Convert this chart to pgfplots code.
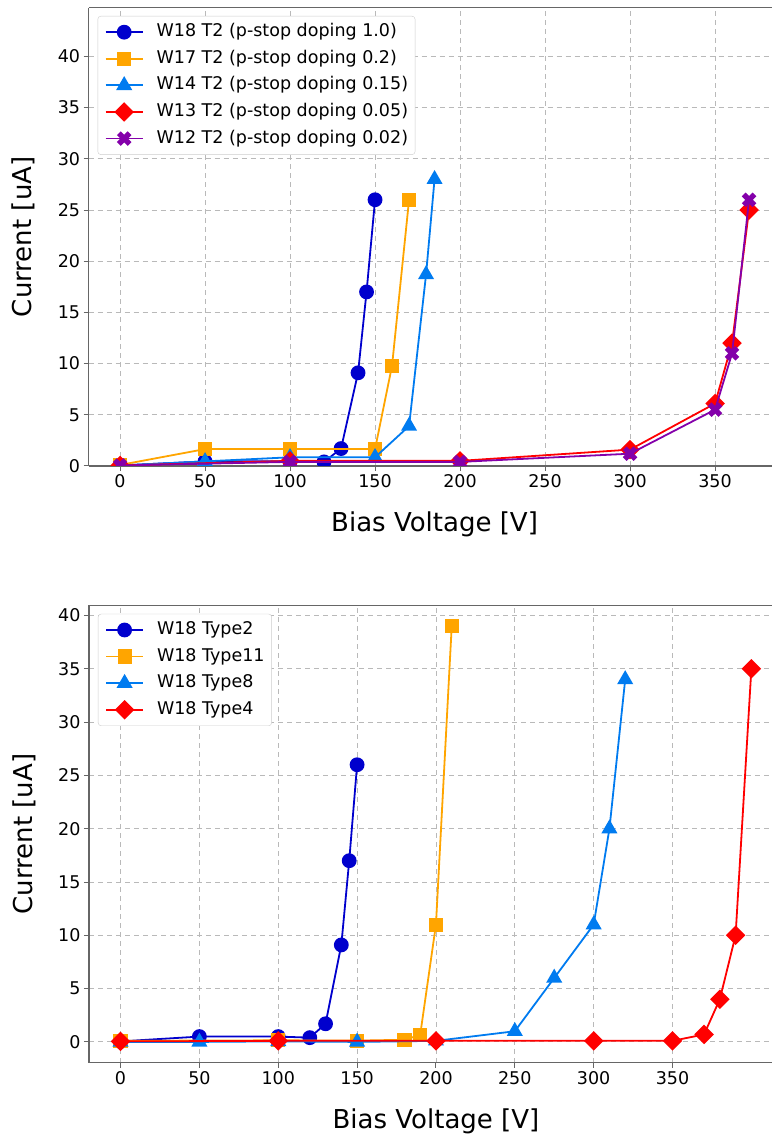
\documentclass[border=0pt]{standalone}
\usepackage{fontspec}
\setmainfont{DejaVu Sans}
\usepackage{pgfplots}
\pgfplotsset{compat=1.18}

\definecolor{cblue}{RGB}{0,0,205}
\definecolor{corange}{RGB}{255,165,0}
\definecolor{clblue}{RGB}{0,123,240}
\definecolor{cred}{RGB}{255,0,0}
\definecolor{cpurple}{RGB}{132,0,170}

\pgfdeclareplotmark{Xfill}{%
  \pgfpathmoveto{\pgfqpoint{0pt}{0.42\pgfplotmarksize}}%
  \pgfpathlineto{\pgfqpoint{0.58\pgfplotmarksize}{\pgfplotmarksize}}%
  \pgfpathlineto{\pgfqpoint{\pgfplotmarksize}{0.58\pgfplotmarksize}}%
  \pgfpathlineto{\pgfqpoint{0.42\pgfplotmarksize}{0pt}}%
  \pgfpathlineto{\pgfqpoint{\pgfplotmarksize}{-0.58\pgfplotmarksize}}%
  \pgfpathlineto{\pgfqpoint{0.58\pgfplotmarksize}{-\pgfplotmarksize}}%
  \pgfpathlineto{\pgfqpoint{0pt}{-0.42\pgfplotmarksize}}%
  \pgfpathlineto{\pgfqpoint{-0.58\pgfplotmarksize}{-\pgfplotmarksize}}%
  \pgfpathlineto{\pgfqpoint{-\pgfplotmarksize}{-0.58\pgfplotmarksize}}%
  \pgfpathlineto{\pgfqpoint{-0.42\pgfplotmarksize}{0pt}}%
  \pgfpathlineto{\pgfqpoint{-\pgfplotmarksize}{0.58\pgfplotmarksize}}%
  \pgfpathlineto{\pgfqpoint{-0.58\pgfplotmarksize}{\pgfplotmarksize}}%
  \pgfpathclose
  \pgfusepathqfillstroke}

\pgfplotsset{
  mystyle/.style={
    scale only axis, anchor=south west,
    axis lines*=left,
    axis line style={black!60, line width=1.1pt},
    tick align=outside, major tick length=5pt, tick pos=left,
    tick style={black!60, line width=1pt},
    grid=major,
    grid style={gray!55, line width=0.9pt, dash pattern=on 5pt off 4pt},
    xtick={0,50,...,350},
    ytick={0,5,...,40},
    /pgf/number format/assume math mode=true,
    ticklabel style={font=\fontsize{17.5}{20}\selectfont},
    label style={font=\fontsize{26}{30}\selectfont},
    xlabel style={at={([yshift=-46pt]axis description cs:0.5,0)}, anchor=north, inner sep=0pt},
    ylabel style={at={([xshift=-53pt]axis description cs:0,0.5)}, anchor=south, inner sep=0pt},
    xlabel={Bias Voltage [V]}, ylabel={Current [uA]},
    legend style={at={(axis description cs:0,1)}, anchor=north west, xshift=9pt, yshift=-8.4pt,
      font=\fontsize{17.5}{20}\selectfont, draw=black!20, rounded corners=3pt, fill=white,
      inner xsep=7pt, inner ysep=7.5pt, row sep=9.6pt, column sep=13pt,
      nodes={inner sep=0pt, text height=13pt, text depth=4pt}},
    legend cell align=left,
    legend image code/.code={\draw[mark repeat=2,mark phase=2] plot coordinates {(0pt,0pt) (18.5pt,0pt) (37pt,0pt)};},
    every axis plot/.append style={line width=1.8pt},
    clip marker paths=true,
    after end axis/.code={\draw[black!60, line width=1.1pt] (rel axis cs:0,1) -- (rel axis cs:1,1);},
  },
  pblue/.style={color=cblue, mark=*, mark size=6.5pt, mark options={solid, fill=cblue}},
  porange/.style={color=corange, mark=square*, mark size=6.2pt, mark options={solid, fill=corange}},
  plblue/.style={color=clblue, mark=triangle*, mark size=7.5pt, mark options={solid, fill=clblue}},
  pred/.style={color=cred, mark=square*, mark size=6pt, mark options={solid, fill=cred, rotate=45}},
  ppurple/.style={color=cpurple, mark=Xfill, mark size=6pt, mark options={solid, fill=cpurple}},
}

\begin{document}
\begin{tikzpicture}
\begin{axis}[mystyle,
  at={(88.6pt,668pt)}, width=691.9pt, height=458.4pt,
  xmin=-18.5, xmax=388.5, ymin=0, ymax=44.77]
\addplot[pblue] coordinates {(0,0.05)(50,0.45)(100,0.45)(120,0.4)(130,1.7)(140,9.1)(145,17)(150,26)};
\addlegendentry{W18 T2 (p-stop doping 1.0)}
\addplot[porange] coordinates {(0,0.1)(50,1.65)(100,1.65)(150,1.65)(160,9.8)(170,26)};
\addlegendentry{W17 T2 (p-stop doping 0.2)}
\addplot[plblue] coordinates {(0,0.05)(50,0.45)(100,0.85)(150,0.85)(170,3.9)(180,18.7)(185,28)};
\addlegendentry{W14 T2 (p-stop doping 0.15)}
\addplot[pred] coordinates {(0,0.05)(100,0.5)(200,0.5)(300,1.6)(350,6.1)(360,12)(370,25)};
\addlegendentry{W13 T2 (p-stop doping 0.05)}
\addplot[ppurple] coordinates {(0,0.05)(100,0.4)(200,0.4)(300,1.2)(350,5.5)(360,11)(370,26)};
\addlegendentry{W12 T2 (p-stop doping 0.02)}
\end{axis}

\begin{axis}[mystyle,
  at={(89pt,71.3pt)}, width=693.9pt, height=457.3pt,
  xmin=-20, xmax=420, ymin=-1.95, ymax=40.95]
\addplot[pblue] coordinates {(0,0.05)(50,0.5)(100,0.5)(120,0.4)(130,1.7)(140,9.1)(145,17)(150,26)};
\addlegendentry{W18 Type2}
\addplot[porange] coordinates {(0,0.1)(100,0.15)(150,0.12)(180,0.2)(190,0.65)(200,11)(210,39)};
\addlegendentry{W18 Type11}
\addplot[plblue] coordinates {(0,0)(50,0)(100,0.05)(150,0)(200,0.1)(250,1)(275,6)(300,11)(310,20)(320,34)};
\addlegendentry{W18 Type8}
\addplot[pred] coordinates {(0,0.05)(100,0.1)(200,0.1)(300,0.1)(350,0.1)(370,0.7)(380,4)(390,10)(400,35)};
\addlegendentry{W18 Type4}
\end{axis}
\pgfresetboundingbox
\path[use as bounding box] (0pt,0pt) rectangle (771pt,1134pt);
\end{tikzpicture}
\end{document}
